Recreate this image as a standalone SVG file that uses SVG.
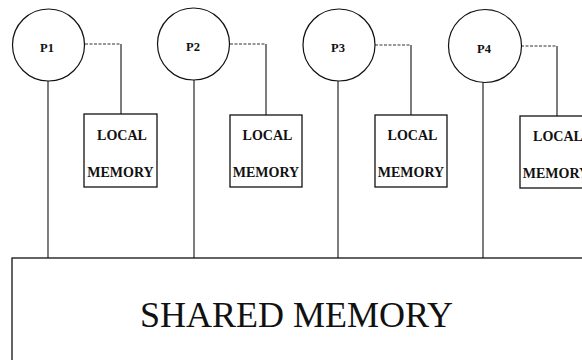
<svg xmlns="http://www.w3.org/2000/svg" width="582" height="360" viewBox="0 0 582 360">
  <style>
    .proc { fill: #fff; stroke: #111; stroke-width: 1.2; }
    .box { fill: #fff; stroke: #111; stroke-width: 1.3; }
    .bus { fill: none; stroke: #111; stroke-width: 1.1; }
    .link { fill: none; stroke: #333; stroke-width: 1.1; stroke-dasharray: 3 1.5; }
    .plabel { font-family: "Liberation Serif", serif; font-size: 12.5px; font-weight: bold; fill: #111; text-anchor: middle; }
    .mlabel { font-family: "Liberation Serif", serif; font-size: 14px; font-weight: bold; fill: #111; text-anchor: middle; }
    .slabel { font-family: "Liberation Serif", serif; font-size: 36px; fill: #111; }
  </style>
  <rect width="582" height="360" fill="#fff"/>

  <!-- connectors: processor buses to shared memory, links to local memories -->
  <g id="connectors">
    <line class="bus" x1="48" y1="81" x2="48" y2="258"/>
    <line class="bus" x1="194" y1="80" x2="194" y2="258"/>
    <line class="bus" x1="338" y1="81" x2="338" y2="258"/>
    <line class="bus" x1="483" y1="82" x2="483" y2="258"/>

    <path class="link" d="M85 44 H121"/>
    <line class="bus" x1="121" y1="44" x2="121" y2="114"/>
    <path class="link" d="M230 44 H266"/>
    <line class="bus" x1="266" y1="44" x2="266" y2="115"/>
    <path class="link" d="M375 45 H411"/>
    <line class="bus" x1="411" y1="45" x2="411" y2="115"/>
    <path class="link" d="M521 46 H557"/>
    <line class="bus" x1="557" y1="46" x2="557" y2="116"/>
  </g>

  <g id="p1">
    <circle class="proc" cx="48.5" cy="45" r="36"/>
    <text class="plabel" x="47" y="52">P1</text>
  </g>
  <g id="p2">
    <circle class="proc" cx="193.5" cy="44" r="36"/>
    <text class="plabel" x="193" y="51">P2</text>
  </g>
  <g id="p3">
    <circle class="proc" cx="339" cy="45" r="36"/>
    <text class="plabel" x="338" y="52">P3</text>
  </g>
  <g id="p4">
    <circle class="proc" cx="485" cy="46" r="36.5"/>
    <text class="plabel" x="484" y="53">P4</text>
  </g>

  <g id="local1">
    <rect class="box" x="84" y="114" width="73" height="73"/>
    <text class="mlabel" x="122" y="140">LOCAL</text>
    <text class="mlabel" x="120.5" y="177">MEMORY</text>
  </g>
  <g id="local2">
    <rect class="box" x="230" y="115" width="72" height="72"/>
    <text class="mlabel" x="267.5" y="140">LOCAL</text>
    <text class="mlabel" x="266" y="177">MEMORY</text>
  </g>
  <g id="local3">
    <rect class="box" x="375" y="115" width="72" height="72"/>
    <text class="mlabel" x="412.5" y="140">LOCAL</text>
    <text class="mlabel" x="411" y="177">MEMORY</text>
  </g>
  <g id="local4">
    <rect class="box" x="520" y="116" width="80" height="72"/>
    <text class="mlabel" x="558" y="141">LOCAL</text>
    <text class="mlabel" x="556" y="178">MEMORY</text>
  </g>

  <g id="shared">
    <rect class="box" x="12" y="258" width="600" height="120"/>
    <text class="slabel" x="140" y="327">SHARED MEMORY</text>
  </g>
</svg>
